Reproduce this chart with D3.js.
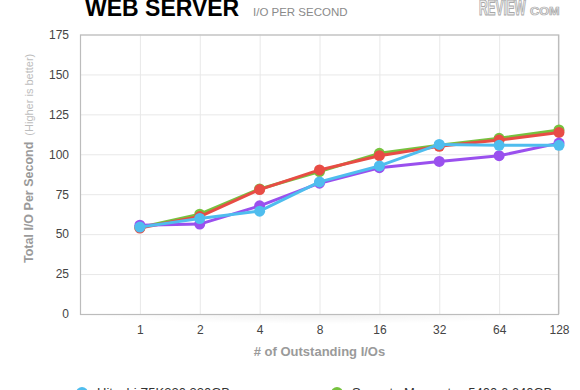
<!DOCTYPE html>
<html>
<head>
<meta charset="utf-8">
<script src="https://cdn.jsdelivr.net/npm/d3@7"></script>
<style>
  html, body { margin: 0; padding: 0; background: #fff; }
  svg { display: block; font-family: "Liberation Sans", Arial, Helvetica, sans-serif; }
</style>
</head>
<body>
<svg id="chart" width="580" height="390"></svg>
<script>
const categories = ["1", "2", "4", "8", "16", "32", "64", "128"];
const yTicks = [0, 25, 50, 75, 100, 125, 150, 175];
const hitachiZ5K320 = [54.4, 59.8, 64.4, 82.7, 92.7, 106.2, 105.6, 105.6];
const seagateMomentus = [54.2, 62.5, 78.3, 89.2, 100.6, 105.6, 110.0, 115.2];
const redSeries = [53.8, 61.0, 77.9, 90.2, 99.1, 105.0, 108.9, 113.7];
const purpleSeries = [55.6, 56.3, 67.7, 81.9, 91.6, 95.5, 99.1, 107.0];

const seriesNames = ["Seagate Momentus 5400.6 640GB", "red", "purple", "Hitachi Z5K320 320GB"];
const seriesColors = ["#76c23e", "#e84c45", "#9a50ee", "#4fbdee"];
const seriesValues = [seagateMomentus, redSeries, purpleSeries, hitachiZ5K320];

const svg = d3.select("#chart");
const L = 80, R = 559, T = 34.5, B = 314;

const x = d3.scaleLinear().domain([0, categories.length]).range([L, R]);
const y = d3.scaleLinear().domain([0, 175]).range([B, T]);

// shadow under plot
const defs = svg.append("defs");
const rg = defs.append("radialGradient").attr("id", "shadow");
rg.append("stop").attr("offset", "0%").attr("stop-color", "#000").attr("stop-opacity", 0.06);
rg.append("stop").attr("offset", "100%").attr("stop-color", "#000").attr("stop-opacity", 0);
svg.append("ellipse").attr("cx", (L + R) / 2).attr("cy", B).attr("rx", (R - L) / 2).attr("ry", 10)
  .attr("fill", "url(#shadow)");
svg.append("rect").attr("x", L).attr("y", T - 2).attr("width", R - L).attr("height", B - T + 2).attr("fill", "#fff");

// y axis + horizontal grid
const yAxis = svg.append("g").attr("transform", `translate(${L},0)`)
  .call(d3.axisLeft(y).tickValues(yTicks).tickSize(-(R - L)).tickPadding(11));
yAxis.select(".domain").remove();
yAxis.selectAll("line").attr("stroke", "#e8e8e8");
yAxis.selectAll("text").attr("fill", "#444").attr("font-size", 12);

// x axis + vertical grid
const xAxis = svg.append("g").attr("transform", `translate(0,${B})`)
  .call(d3.axisBottom(x).tickValues(d3.range(1, categories.length + 1))
    .tickFormat(i => categories[i - 1]).tickSize(-(B - T)).tickPadding(11));
xAxis.select(".domain").remove();
xAxis.selectAll("line").attr("stroke", "#e8e8e8");
xAxis.selectAll("text").attr("fill", "#444").attr("font-size", 12);

// frame
svg.append("rect").attr("x", L + 0.5).attr("y", T + 0.5).attr("width", R - L - 1).attr("height", B - T)
  .attr("fill", "none").attr("stroke", "#bcbcbc").attr("stroke-width", 1.2);

// series
const line = d3.line().x((d, i) => x(i + 1)).y(d => y(d));
seriesValues.forEach((vals, k) => {
  const g = svg.append("g");
  g.append("path").datum(vals).attr("d", line).attr("fill", "none")
    .attr("stroke", seriesColors[k]).attr("stroke-width", 3).attr("stroke-linejoin", "round");
  g.selectAll("circle").data(vals).join("circle")
    .attr("cx", (d, i) => x(i + 1)).attr("cy", d => y(d)).attr("r", 5.5)
    .attr("fill", seriesColors[k]);
});

// axis titles
svg.append("text").attr("x", (L + R) / 2).attr("y", 356).attr("text-anchor", "middle")
  .attr("font-size", 13).attr("font-weight", "bold").attr("fill", "#9a9a9a")
  .text("# of Outstanding I/Os");

const yt = svg.append("text").attr("transform", "translate(33,263) rotate(-90)")
  .attr("text-anchor", "start");
yt.append("tspan").attr("font-size", 12.5).attr("font-weight", "bold").attr("fill", "#9a9a9a")
  .text("Total I/O Per Second");
yt.append("tspan").attr("dx", 6).attr("font-size", 11).attr("fill", "#bdbdbd")
  .text("(Higher is better)");

// title
svg.append("text").attr("x", 85).attr("y", 16).attr("font-size", 23).attr("font-weight", "bold")
  .attr("fill", "#000").text("WEB SERVER");
svg.append("text").attr("x", 253).attr("y", 16).attr("font-size", 11.5).attr("fill", "#8a8a8a")
  .text("I/O PER SECOND");

// logo (scaled glyphs)
svg.append("text").attr("transform", "translate(479,15) scale(0.54,1)")
  .attr("font-size", 22).attr("font-weight", "bold")
  .attr("fill", "#f0f0f0").attr("stroke", "#a8a8a8").attr("stroke-width", 1.2).text("REVIEW");
svg.append("text").attr("transform", "translate(530,15) scale(1.15,1)")
  .attr("font-size", 11).attr("font-weight", "bold")
  .attr("fill", "#f0f0f0").attr("stroke", "#a8a8a8").attr("stroke-width", 0.7).text("COM");

// legend (visible entries)
const legendItems = [
  { name: seriesNames[3], color: seriesColors[3], x: 82 },
  { name: seriesNames[0], color: seriesColors[0], x: 337 }
];
legendItems.forEach(it => {
  svg.append("circle").attr("cx", it.x).attr("cy", 393).attr("r", 6).attr("fill", it.color);
  svg.append("text").attr("x", it.x + 15).attr("y", 397).attr("font-size", 13).attr("fill", "#333")
    .text(it.name);
});
</script>
</body>
</html>
